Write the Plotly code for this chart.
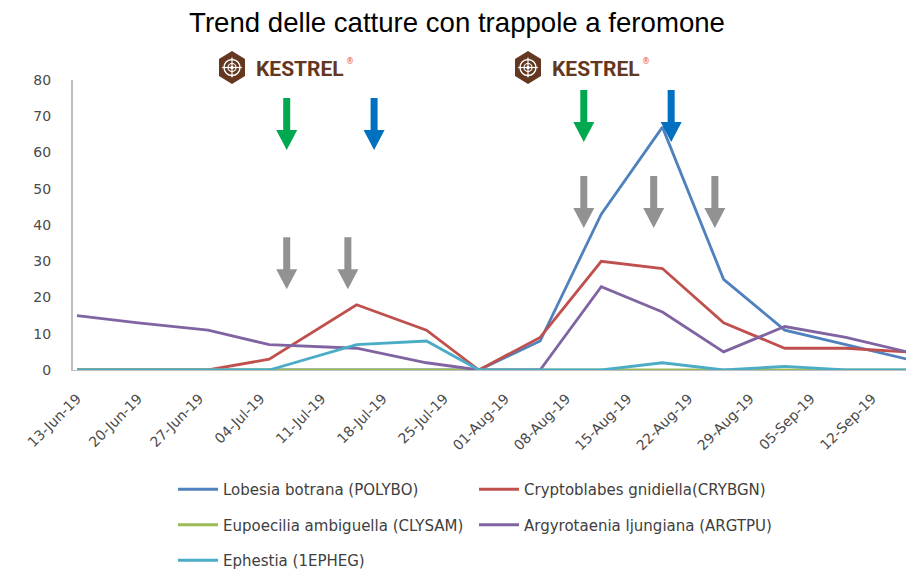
import plotly.graph_objects as go
import pandas as pd


#------------------------------------------------------------------------------------------------
# Data (catches per trap reading)
dates = ['2019-06-13', '2019-06-20', '2019-06-28', '2019-07-05', '2019-07-15', '2019-07-23', '2019-07-29',
         '2019-08-05', '2019-08-12', '2019-08-19', '2019-08-26', '2019-09-02', '2019-09-09', '2019-09-16']

lobesia     = [0, 0, 0, 0, 0, 0, 0, 8, 43, 67, 25, 11, 7, 3]
cryptoblabes = [0, 0, 0, 3, 18, 11, 0, 9, 30, 28, 13, 6, 6, 5]
eupoecilia  = [0, 0, 0, 0, 0, 0, 0, 0, 0, 0, 0, 0, 0, 0]
argyrotaenia = [15, 13, 11, 7, 6, 2, 0, 0, 23, 16, 5, 12, 9, 5]
ephestia    = [0, 0, 0, 0, 7, 8, 0, 0, 0, 2, 0, 1, 0, 0]

series_names = ['Lobesia botrana (POLYBO)', 'Cryptoblabes gnidiella(CRYBGN)', 'Eupoecilia ambiguella (CLYSAM)',
                'Argyrotaenia ljungiana (ARGTPU)', 'Ephestia (1EPHEG)']
series_values = [lobesia, cryptoblabes, eupoecilia, argyrotaenia, ephestia]
series_colors = ['#4F81BD', '#C0504D', '#9BBB59', '#8064A2', '#4BACC6']
series_legend = ['legend', 'legend2', 'legend', 'legend2', 'legend']

# treatment arrows: (date, tip value, colour)
arrows = [
    ('2019-07-07', 60.7, '#00A84F'), ('2019-07-17', 60.7, '#0070C0'),
    ('2019-07-07', 22.3, '#929292'), ('2019-07-14', 22.3, '#929292'),
    ('2019-08-10', 62.9, '#00A84F'), ('2019-08-20', 62.9, '#0070C0'),
    ('2019-08-10', 39.2, '#929292'), ('2019-08-18', 39.2, '#929292'), ('2019-08-25', 39.2, '#929292'),
]

# the page body adds an 8px margin, so the figure is made that much smaller
OFF = 8
W, H = 914 - OFF, 573 - OFF
L, R, T, B = 73 - OFF, 4, 80 - OFF, 203
BROWN = '#643720'


# screen pixel -> paper fraction of the plot area (screen x 73..910, y 80..370)
def px(x):
    return (x - 73) / 837


def py(y):
    return (370 - y) / 290


#------------------------------------------------------------------------------------------------
fig = go.Figure()

for name, values, color, leg in zip(series_names, series_values, series_colors, series_legend):
    fig.add_trace(go.Scatter(
        x           = pd.to_datetime(dates),
        y           = values,
        name        = name,
        mode        = 'lines',
        line        = dict(color=color, width=2.8),
        legend      = leg,
        legendgroup = name
    ))

start = pd.Timestamp(dates[0]) - pd.Timedelta(hours=11)
end = pd.Timestamp(dates[-1]) + pd.Timedelta(hours=8)

fig.update_xaxes(
    range         = [start, end],
    tick0         = dates[0],
    dtick         = 7 * 24 * 3600 * 1000,
    tickformat    = '%d-%b-%y',
    tickangle     = -45,
    tickfont      = dict(family='DejaVu Sans', size=14, color='#4a4a4a'),
    showgrid      = False,
    zeroline      = False,
    showline      = True,
    linecolor     = '#BFBFBF',
    ticklabelstandoff = 14
)
fig.update_yaxes(
    range         = [0, 80],
    dtick         = 10,
    tickfont      = dict(family='DejaVu Sans', size=14, color='#4a4a4a'),
    showgrid      = False,
    zeroline      = False,
    showline      = True,
    linecolor     = '#BFBFBF',
    linewidth     = 2,
    ticklabelstandoff = 17
)

# arrows drawn in pixels around their anchor
arrow_path = 'M 0 0 L -10.5 20 L -3.5 20 L -3.5 52 L 3.5 52 L 3.5 20 L 10.5 20 Z'
for date, value, color in arrows:
    fig.add_shape(type='path', path=arrow_path, xref='x', yref='y',
                  xsizemode='pixel', ysizemode='pixel', xanchor=date, yanchor=value,
                  fillcolor=color, line_width=0)

# KESTREL logos
for cx in [232, 528]:
    cy = 67.5
    hexagon = [(cx, cy - 16.5), (cx + 13, cy - 8.5), (cx + 13, cy + 8.5),
               (cx, cy + 16.5), (cx - 13, cy + 8.5), (cx - 13, cy - 8.5)]
    path = 'M ' + ' L '.join(f'{px(a):.5f} {py(b):.5f}' for a, b in hexagon) + ' Z'
    fig.add_shape(type='path', path=path, xref='paper', yref='paper', fillcolor=BROWN, line_width=0)
    for r, w in [(8, 1.4), (4, 1.2)]:
        fig.add_shape(type='circle', xref='paper', yref='paper',
                      x0=px(cx - r), x1=px(cx + r), y0=py(cy + r), y1=py(cy - r),
                      line=dict(color='white', width=w))
    fig.add_shape(type='line', xref='paper', yref='paper', x0=px(cx - 10), x1=px(cx + 10),
                  y0=py(cy), y1=py(cy), line=dict(color='white', width=1.2))
    fig.add_shape(type='line', xref='paper', yref='paper', x0=px(cx), x1=px(cx),
                  y0=py(cy - 10), y1=py(cy + 10), line=dict(color='white', width=1.2))
    fig.add_shape(type='circle', xref='paper', yref='paper', fillcolor='white', line_width=0,
                  x0=px(cx - 1.8), x1=px(cx + 1.8), y0=py(cy + 1.8), y1=py(cy - 1.8))
    fig.add_annotation(text='<b>KESTREL</b>', xref='paper', yref='paper', x=px(cx + 22), y=py(cy + 1),
                       xanchor='left', yanchor='middle', showarrow=False,
                       font=dict(family='Roboto', size=21, color=BROWN))
    fig.add_annotation(text='®', xref='paper', yref='paper', x=px(cx + 118), y=py(cy - 6),
                       xanchor='center', yanchor='middle', showarrow=False,
                       font=dict(family='DejaVu Sans', size=8, color='#E8474C'))

legend_style = dict(
    orientation    = 'v',
    xanchor        = 'left',
    yanchor        = 'top',
    font           = dict(family='DejaVu Sans', size=15, color='#404040'),
    itemwidth      = 40,
    tracegroupgap  = 13,
    traceorder     = 'grouped',
    bgcolor        = 'rgba(0,0,0,0)'
)

fig.update_layout(
    width         = W,
    height        = H,
    margin        = dict(l=L, r=R, t=T, b=B, autoexpand=False),
    paper_bgcolor = 'white',
    plot_bgcolor  = 'white',
    title         = dict(text='Trend delle catture con trappole a feromone', x=0.5 - 4 / W, xref='container',
                         y=1 - 14 / H, yref='container', yanchor='middle', xanchor='center',
                         font=dict(family='Liberation Sans', size=27.6, color='black')),
    legend        = dict(legend_style, x=px(173), y=py(473)),
    legend2       = dict(legend_style, x=px(474), y=py(473)),
)

fig.write_html('out.html')
